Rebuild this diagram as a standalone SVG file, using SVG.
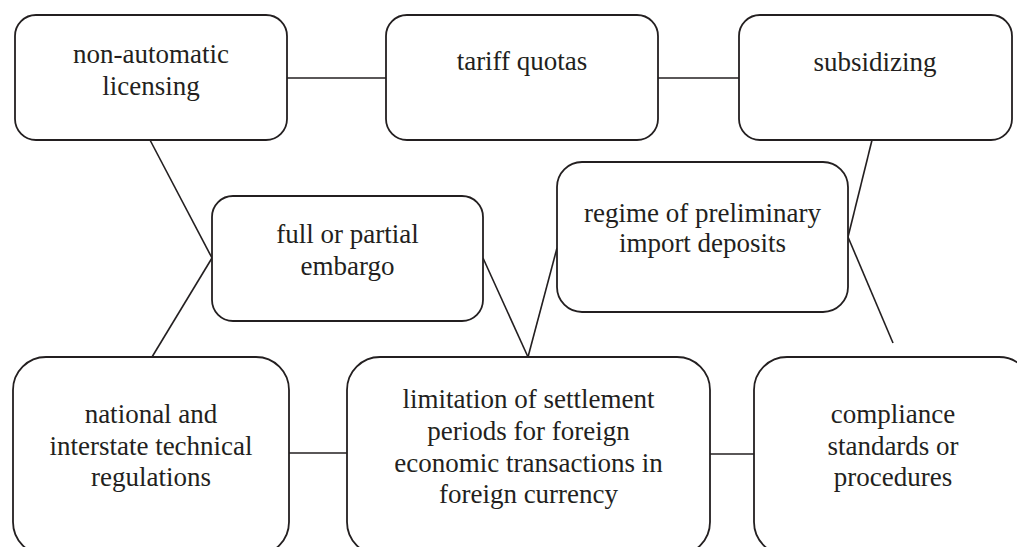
<svg xmlns="http://www.w3.org/2000/svg" width="1017" height="547" viewBox="0 0 1017 547">
<style>
.box{fill:#fff;stroke:#231f20;stroke-width:1.8}
.ln{stroke:#231f20;stroke-width:1.6;fill:none}
text{font-family:"Liberation Serif","Times New Roman",serif;font-size:27px;fill:#231f20;text-anchor:middle}
</style>
<rect width="1017" height="547" fill="#fff"/>
<g id="connectors">
<line class="ln" x1="287" y1="78" x2="386" y2="78"/>
<line class="ln" x1="658" y1="78" x2="739" y2="78"/>
<line class="ln" x1="150" y1="140" x2="212" y2="258"/>
<line class="ln" x1="212" y1="258" x2="152" y2="357"/>
<line class="ln" x1="483" y1="258" x2="528" y2="357"/>
<line class="ln" x1="528" y1="357" x2="557" y2="248"/>
<line class="ln" x1="875" y1="128" x2="848" y2="237"/>
<line class="ln" x1="848" y1="237" x2="893" y2="343"/>
<line class="ln" x1="289" y1="453" x2="347" y2="453"/>
<line class="ln" x1="710" y1="454" x2="754" y2="454"/>
</g>
<g id="node-licensing">
<rect class="box" x="15" y="15" width="272" height="125" rx="21"/>
<text x="151" y="63">non-automatic</text>
<text x="151" y="95">licensing</text>
</g>
<g id="node-tariff">
<rect class="box" x="386" y="15" width="272" height="125" rx="21"/>
<text x="522" y="70">tariff quotas</text>
</g>
<g id="node-subsidizing">
<rect class="box" x="739" y="15" width="273" height="125" rx="21"/>
<text x="875" y="71">subsidizing</text>
</g>
<g id="node-embargo">
<rect class="box" x="212" y="196" width="271" height="125" rx="21"/>
<text x="347.5" y="243">full or partial</text>
<text x="347.5" y="275">embargo</text>
</g>
<g id="node-deposits">
<rect class="box" x="557" y="162" width="291" height="150" rx="25"/>
<text x="702.5" y="222">regime of preliminary</text>
<text x="702.5" y="252">import deposits</text>
</g>
<g id="node-regulations">
<rect class="box" x="13" y="357" width="276" height="198" rx="33"/>
<text x="151" y="423">national and</text>
<text x="151" y="455">interstate technical</text>
<text x="151" y="486">regulations</text>
</g>
<g id="node-settlement">
<rect class="box" x="347" y="357" width="363" height="198" rx="33"/>
<text x="528.5" y="408">limitation of settlement</text>
<text x="528.5" y="440">periods for foreign</text>
<text x="528.5" y="472">economic transactions in</text>
<text x="528.5" y="503">foreign currency</text>
</g>
<g id="node-compliance">
<rect class="box" x="754" y="357" width="278" height="198" rx="33"/>
<text x="893" y="423">compliance</text>
<text x="893" y="455">standards or</text>
<text x="893" y="486">procedures</text>
</g>
</svg>
